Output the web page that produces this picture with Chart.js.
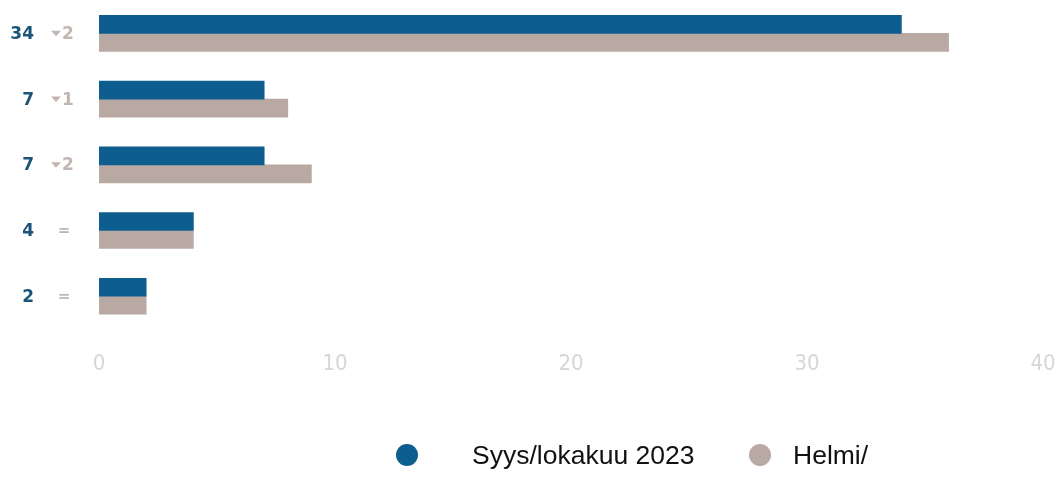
<!DOCTYPE html>
<html>
<head>
<meta charset="utf-8">
<script src="https://cdn.jsdelivr.net/npm/chart.js@4.4.0/dist/chart.umd.min.js"></script>
<style>
  html, body { margin: 0; padding: 0; background: #fff; }
  #wrap { width: 1062px; height: 477px; }
</style>
</head>
<body>
<div id="wrap"><canvas id="chart"></canvas></div>
<script>
// rows, top to bottom
const categories = ['r1', 'r2', 'r3', 'r4', 'r5'];
const currentValues = [34, 7, 7, 4, 2];   // Syys/lokakuu 2023
const previousValues = [36, 8, 9, 4, 2];  // Helmi/
const seriesLabels = ['Syys/lokakuu 2023', 'Helmi/'];
const xTicks = [0, 10, 20, 30, 40];

const BLUE = '#0d5d8f';
const TAUPE = '#b8aaa3';

// value + change markers left of each row
const rowLabels = {
  id: 'rowLabels',
  afterDraw(chart) {
    const ctx = chart.ctx;
    const y = chart.scales.y;
    ctx.save();
    ctx.textBaseline = 'middle';
    categories.forEach((c, i) => {
      const py = y.getPixelForTick(i) + 1;
      ctx.font = 'bold 17px "DejaVu Sans"';
      ctx.fillStyle = '#1b5478';
      ctx.textAlign = 'right';
      ctx.fillText(String(currentValues[i]), 34, py);

      const diff = previousValues[i] - currentValues[i];
      ctx.fillStyle = '#c2b6b1';
      if (diff === 0) {
        ctx.font = 'bold 15px "DejaVu Sans"';
        ctx.textAlign = 'center';
        ctx.fillText('=', 64, py);
      } else {
        ctx.beginPath();
        ctx.moveTo(51, py - 3.5);
        ctx.lineTo(61, py - 3.5);
        ctx.lineTo(56, py + 2);
        ctx.closePath();
        ctx.fill();
        ctx.font = 'bold 17px "DejaVu Sans"';
        ctx.textAlign = 'left';
        ctx.fillText(String(Math.abs(diff)), 62, py);
      }
    });
    ctx.restore();
  }
};

// legend under the axis
const bottomLegend = {
  id: 'bottomLegend',
  afterDraw(chart) {
    const ctx = chart.ctx;
    const items = [[407, 472], [760, 793]];
    ctx.save();
    chart.data.datasets.forEach((ds, i) => {
      const [cx, tx] = items[i];
      ctx.beginPath();
      ctx.arc(cx, 455, 11, 0, Math.PI * 2);
      ctx.fillStyle = ds.backgroundColor;
      ctx.fill();
      ctx.fillStyle = '#111';
      ctx.font = '26.5px "Liberation Sans"';
      ctx.textBaseline = 'middle';
      ctx.textAlign = 'left';
      ctx.fillText(ds.label, tx, 457);
    });
    ctx.restore();
  }
};

new Chart(document.getElementById('chart'), {
  type: 'bar',
  data: {
    labels: categories,
    datasets: [
      { label: seriesLabels[0], data: currentValues, backgroundColor: BLUE, barThickness: 18 },
      { label: seriesLabels[1], data: previousValues, backgroundColor: TAUPE, barThickness: 18 }
    ]
  },
  options: {
    indexAxis: 'y',
    responsive: true,
    maintainAspectRatio: false,
    animation: false,
    layout: { padding: { left: 99, right: 19, top: 0.5, bottom: 99.5 } },
    plugins: { legend: { display: false }, tooltip: { enabled: false } },
    scales: {
      x: {
        min: 0,
        max: 40,
        afterBuildTicks(scale) { scale.ticks = xTicks.map(v => ({ value: v })); },
        // hidden tick marks only reserve the gap above the labels
        grid: { display: false, drawTicks: true, tickLength: 22 },
        border: { display: false },
        ticks: {
          padding: 0,
          color: '#d6d6d6',
          font: { family: '"DejaVu Sans Condensed"', size: 22, weight: 'normal' }
        }
      },
      y: {
        grid: { display: false, drawTicks: false },
        border: { display: false },
        ticks: { display: false }
      }
    }
  },
  plugins: [rowLabels, bottomLegend]
});
</script>
</body>
</html>
